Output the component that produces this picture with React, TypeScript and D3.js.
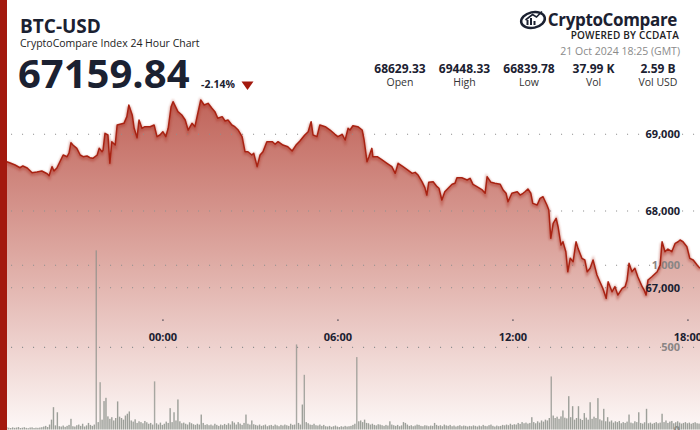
import React from "react";
import * as d3 from "d3";

const W = 700;
const H = 430;

// Price samples: minutes since 20 Oct 2024 18:25 GMT, and price in USD
const priceMinutes = [
  0, 14, 21, 31, 41, 47, 56, 66, 76, 86, 97, 101, 107, 111, 117, 123, 130, 138, 142, 146,
  150, 158, 165, 171, 179, 185, 191, 200, 204, 210, 212, 216, 222, 226, 230, 237, 241, 247, 255, 261,
  265, 272, 276, 282, 286, 292, 298, 309, 317, 323, 329, 335, 341, 346, 352, 356, 366, 374, 381, 387,
  395, 401, 407, 413, 420, 428, 436, 442, 448, 457, 463, 469, 477, 483, 490, 498, 504, 510, 518, 522,
  529, 535, 541, 549, 560, 566, 572, 582, 592, 601, 609, 617, 627, 634, 640, 644, 652, 658, 669, 679,
  689, 695, 704, 710, 716, 720, 726, 736, 745, 749, 755, 759, 765, 767, 776, 786, 796, 806, 813, 819,
  829, 839, 848, 854, 860, 868, 874, 878, 882, 891, 899, 903, 909, 915, 922, 930, 936, 940, 950, 961,
  967, 973, 981, 992, 998, 1002, 1010, 1018, 1029, 1035, 1041, 1045, 1053, 1064, 1070, 1076, 1080, 1086, 1092, 1096,
  1105, 1111, 1117, 1125, 1129, 1133, 1138, 1144, 1148, 1154, 1158, 1164, 1168, 1173, 1179, 1185, 1189, 1197, 1203, 1208,
  1214, 1220, 1228, 1234, 1240, 1247, 1251, 1259, 1265, 1271, 1280, 1286, 1290, 1294, 1300, 1306, 1312, 1321, 1325, 1329,
  1333, 1341, 1352, 1358, 1362, 1368, 1374, 1382, 1389, 1395, 1399, 1405, 1413, 1419, 1426, 1434, 1440,
];
const priceValues = [
  68629, 68643, 68626, 68600, 68564, 68587, 68561, 68499, 68508, 68521, 68486, 68460, 68578, 68521, 68561, 68639, 68730, 68708, 68756, 68890,
  68860, 68817, 68730, 68708, 68717, 68695, 68687, 68730, 68817, 68773, 68795, 69013, 68991, 68622, 68904, 68860, 69121, 69130, 69143, 69230,
  69382, 69252, 69078, 68956, 69186, 69078, 69099, 69099, 69121, 68969, 68991, 69034, 68969, 69078, 69360, 69425, 69295, 69252, 69186, 69056,
  69143, 69099, 69274, 69447, 69382, 69404, 69339, 69295, 69209, 69230, 69173, 69186, 69121, 69099, 69056, 68969, 68773, 68773, 68730, 68752,
  68578, 68730, 68773, 68904, 68904, 68870, 68904, 68860, 68838, 68782, 68860, 68913, 68991, 69034, 69164, 68991, 68969, 69121, 69099, 69056,
  69000, 68969, 69000, 68926, 69078, 69056, 69112, 69099, 69056, 68926, 68643, 68708, 68817, 68708, 68708, 68665, 68622, 68578, 68491, 68622,
  68578, 68534, 68491, 68504, 68469, 68382, 68304, 68208, 68374, 68382, 68317, 68296, 68143, 68251, 68296, 68348, 68361, 68434, 68434, 68404,
  68426, 68348, 68317, 68274, 68231, 68447, 68374, 68361, 68348, 68274, 68231, 68121, 68231, 68251, 68208, 68231, 68251, 68287, 68231, 68100,
  68078, 68165, 68186, 68078, 68013, 67644, 67839, 67905, 67795, 67556, 67599, 67469, 67208, 67383, 67339, 67599, 67513, 67383, 67361, 67208,
  67253, 67361, 67165, 67078, 66992, 66861, 67078, 66947, 67013, 66904, 66992, 67013, 67100, 67318, 67208, 67253, 67143, 67013, 66970, 66904,
  67100, 67143, 67208, 67296, 67599, 67469, 67504, 67469, 67579, 67599, 67622, 67599, 67534, 67383, 67361, 67296, 67253,
];

// Volume (BTC), one value per 4-minute bucket
const volumeValues = [
  10, 12, 8, 14, 11, 9, 13, 10, 12, 15, 9, 11, 14, 10, 8, 12, 13, 9, 11, 10,
  12, 14, 18, 22, 15, 30, 60, 136, 25, 105, 20, 18, 24, 16, 22, 28, 65, 20, 18, 26,
  30, 22, 35, 18, 25, 40, 28, 22, 30, 1091, 45, 288, 60, 173, 193, 80, 65, 75, 55, 70,
  171, 78, 70, 60, 85, 96, 110, 55, 48, 62, 40, 50, 45, 38, 52, 44, 35, 40, 30, 293,
  38, 30, 42, 28, 35, 48, 40, 130, 45, 105, 55, 183, 50, 38, 42, 35, 30, 44, 38, 32,
  28, 35, 30, 91, 40, 28, 32, 26, 30, 24, 35, 28, 22, 30, 26, 34, 28, 38, 30, 50,
  42, 30, 45, 36, 28, 40, 91, 35, 30, 55, 32, 28, 24, 30, 22, 26, 30, 20, 25, 28,
  22, 30, 25, 20, 28, 24, 30, 26, 22, 35, 28, 30, 518, 40, 30, 152, 333, 45, 38, 30,
  28, 35, 26, 24, 30, 22, 28, 20, 18, 22, 16, 20, 24, 18, 15, 20, 17, 22, 18, 20,
  22, 28, 35, 441, 50, 55, 45, 60, 40, 38, 30, 35, 28, 25, 32, 30, 26, 22, 28, 24,
  50, 30, 26, 22, 28, 20, 25, 45, 40, 30, 22, 26, 20, 24, 30, 28, 22, 20, 26, 24,
  20, 24, 22, 40, 28, 22, 26, 20, 30, 25, 22, 28, 20, 24, 18, 22, 26, 20, 24, 22,
  18, 22, 20, 25, 22, 18, 24, 20, 28, 22, 20, 26, 30, 22, 18, 24, 20, 22, 28, 25,
  30, 26, 35, 28, 32, 30, 40, 34, 45, 38, 42, 36, 40, 75, 45, 38, 50, 42, 55, 48,
  60, 55, 70, 323, 85, 70, 78, 65, 80, 116, 72, 68, 203, 75, 142, 60, 70, 142, 65, 58,
  100, 72, 60, 166, 65, 78, 70, 191, 62, 55, 126, 50, 75, 48, 55, 42, 50, 45, 52, 38,
  45, 40, 48, 91, 42, 38, 50, 45, 105, 40, 36, 44, 126, 38, 42, 35, 40, 45, 38, 42,
  96, 45, 55, 40, 48, 52, 38, 44, 50, 42, 36, 40, 45, 38, 42, 35, 40, 44, 38, 36,
];
const volumeBucketMinutes = 4;

const priceTicks = [67000, 68000, 69000];
const volumeTicks = [500, 1000];
const timeTickLabels = ["00:00", "06:00", "12:00", "18:00"];
const timeTickHours = [24, 30, 36, 42]; // hours since 20 Oct 2024 00:00 GMT

const statValues = ["68629.33", "69448.33", "66839.78", "37.99 K", "2.59 B"];
const statLabels = ["Open", "High", "Low", "Vol", "Vol USD"];

const startTime = Date.UTC(2024, 9, 20, 18, 25);
const dayStart = Date.UTC(2024, 9, 20, 0, 0);

const FONT = "'Open Sans', 'Noto Sans', sans-serif";
const DARK = "#1b2131";
const RED = "#a3190e";

export default function App() {
  const x = d3
    .scaleUtc()
    .domain([new Date(startTime), new Date(startTime + 1440 * 60000)])
    .range([0, W]);
  const yP = d3.scaleLinear().domain([67000, 69000]).range([287.7, 134.3]);
  const yV = d3.scaleLinear().domain([0, 1000]).range([429.5, 265.3]);

  const pts = priceMinutes.map((m, i) => ({ t: new Date(startTime + m * 60000), p: priceValues[i] }));
  const line = d3
    .line<{ t: Date; p: number }>()
    .x((d) => x(d.t))
    .y((d) => yP(d.p));
  const area = d3
    .area<{ t: Date; p: number }>()
    .x((d) => x(d.t))
    .y0(H)
    .y1((d) => yP(d.p));

  const gridYs = [...priceTicks.map((t) => yP(t)), ...volumeTicks.map((t) => yV(t))];
  const statCenters = d3.scalePoint<string>().domain(statLabels).range([400, 658]);

  return (
    <svg
      width={W}
      height={H}
      style={{ position: "absolute", left: 0, top: 0 }}
      fontFamily={FONT}
    >
      <defs>
        <linearGradient id="fillGrad" gradientUnits="userSpaceOnUse" x1="0" y1="100" x2="0" y2="430">
          <stop offset="0" stopColor="#c0645a" />
          <stop offset="0.45" stopColor="#dca59e" />
          <stop offset="1" stopColor="#fdf8f7" />
        </linearGradient>
        <filter id="blur" x="-5%" y="-20%" width="110%" height="140%">
          <feGaussianBlur stdDeviation="1.2" />
        </filter>
      </defs>
      <rect width={W} height={H} fill="#ffffff" />

      {/* area */}
      <path d={area(pts) || ""} fill="url(#fillGrad)" />

      {/* grid */}
      {gridYs.map((gy, i) => (
        <line
          key={i}
          x1={11}
          x2={W}
          y1={gy}
          y2={gy}
          stroke="#8f8f8f"
          strokeWidth={1.1}
          strokeDasharray="1.1 9.9"
        />
      ))}

      {/* volume axis labels */}
      {[0, ...volumeTicks].map((t) => (
        <text
          key={t}
          x={680}
          y={yV(t) + 4}
          textAnchor="end"
          fontSize={11}
          fontWeight={700}
          fill="#8a8584"
        >
          {d3.format(",")(t)}
        </text>
      ))}

      {/* volume bars */}
      {volumeValues.map((v, i) => {
        const t = new Date(startTime + (i * volumeBucketMinutes + 2) * 60000);
        return (
          <rect
            key={i}
            x={x(t) - 0.7}
            y={yV(v)}
            width={1.4}
            height={Math.max(0, yV(0) - yV(v))}
            fill="#8c9089"
            opacity={v > 250 ? 0.75 : 0.85}
          />
        );
      })}

      {/* price line shadow + line */}
      <path
        d={line(pts) || ""}
        fill="none"
        stroke="#b0392b"
        strokeWidth={3.5}
        opacity={0.45}
        transform="translate(0,1.5)"
        filter="url(#blur)"
      />
      <path d={line(pts) || ""} fill="none" stroke="#a82212" strokeWidth={1.5} strokeLinejoin="round" />

      {/* price axis labels */}
      {priceTicks.map((t) => (
        <text
          key={t}
          x={680}
          y={yP(t) + 4}
          textAnchor="end"
          fontSize={11}
          fontWeight={700}
          fill={DARK}
        >
          {d3.format(",")(t)}
        </text>
      ))}

      {/* time axis */}
      {timeTickLabels.map((lab, i) => {
        const tx = x(new Date(dayStart + timeTickHours[i] * 3600000));
        return (
          <g key={lab}>
            <rect x={tx - 0.5} y={319.5} width={1.2} height={1.2} fill={DARK} />
            <text x={tx} y={341} textAnchor="middle" fontSize={11} fontWeight={700} fill={DARK}>
              {lab}
            </text>
          </g>
        );
      })}

      {/* left accent bar */}
      <rect x={0} y={0} width={7} height={H} fill={RED} />

      {/* header left */}
      <text x={20} y={33} fontSize={19} fontWeight={700} fill={DARK}>
        BTC-USD
      </text>
      <text x={20} y={47} fontSize={10.5} fill="#222">
        CryptoCompare Index 24 Hour Chart
      </text>
      <text x={18} y={87.5} fontSize={40} fontWeight={700} fill={DARK}>
        67159.84
      </text>
      <text x={201} y={88} fontSize={10.5} fontWeight={700} fill={DARK}>
        -2.14%
      </text>
      <path d="M241.5,81.5 L253.5,81.5 L247.5,90 Z" fill={RED} />

      {/* logo */}
      <g transform="translate(533,20) rotate(-12)">
        <ellipse cx={0} cy={0} rx={12} ry={7.8} fill="none" stroke={DARK} strokeWidth={2.5} />
      </g>
      <rect x={526.5} y={20} width={2} height={5} fill={DARK} />
      <rect x={530} y={18} width={2} height={7} fill={DARK} />
      <rect x={533.5} y={21} width={2} height={4} fill={DARK} />
      <path d="M525.5,20 L532.5,14.5 L536.5,17 L542,11.5" fill="none" stroke={DARK} strokeWidth={1.6} />
      <text x={677} y={26} textAnchor="end" fontSize={17} fontWeight={700} fill={DARK} letterSpacing={-0.35}>
        CryptoCompare
      </text>
      <text x={679} y={38.5} textAnchor="end" fontSize={10} fontWeight={600} fill="#222" letterSpacing={0.2}>
        POWERED BY CCDATA
      </text>
      <text x={680} y={54.5} textAnchor="end" fontSize={10.5} fill="#8a8a8a">
        21 Oct 2024 18:25 (GMT)
      </text>

      {/* stats */}
      {statLabels.map((lab, i) => (
        <g key={lab}>
          <text x={statCenters(lab)} y={72.5} textAnchor="middle" fontSize={12} fontWeight={700} fill={DARK}>
            {statValues[i]}
          </text>
          <text x={statCenters(lab)} y={86} textAnchor="middle" fontSize={10.5} fill="#333">
            {lab}
          </text>
        </g>
      ))}
    </svg>
  );
}
